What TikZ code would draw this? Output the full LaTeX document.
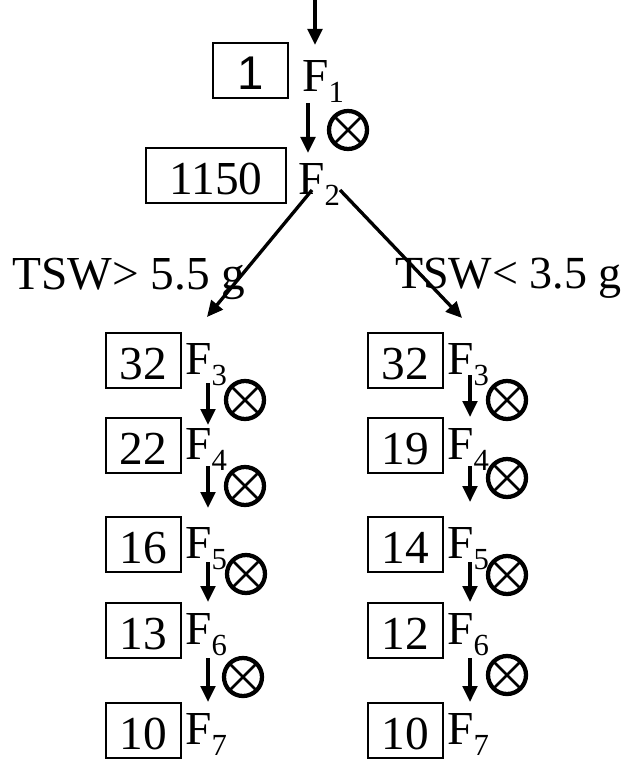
\documentclass[tikz,border=0pt]{standalone}
\usepackage{fontspec}
\setmainfont{Liberation Serif}
\newfontfamily\arialfont{Liberation Sans}
\usetikzlibrary{arrows.meta}
\newcommand{\Fsub}[1]{F\raisebox{-8.25pt}{\fontsize{23}{26}\selectfont #1}}
\tikzset{
  numbox/.style={draw, line width=1.2pt, inner sep=0pt, minimum width=56.25pt, minimum height=41.25pt, text height=30pt, text depth=2pt},
  widebox/.style={numbox, minimum width=105pt},
  lbl/.style={inner sep=0pt, anchor=base west},
  arr/.style={line width=2.5pt, -{Triangle[length=12pt,width=11pt]}},
  selfx/.style={circle, draw, line width=3.2pt, inner sep=0pt, minimum size=28.5pt,
    path picture={\draw[line width=2pt]
      (path picture bounding box.north west) -- (path picture bounding box.south east)
      (path picture bounding box.north east) -- (path picture bounding box.south west);}}
}
\begin{document}
\begin{tikzpicture}[x=0.75pt,y=-0.75pt,font=\fontsize{35.5}{40}\selectfont]
\useasboundingbox (0,0) rectangle (625,762);
% top
\coordinate (s0) at (315,0);
\coordinate (e0) at (315,45);
\node[numbox] (b1) at (250.5,70.5) {\arialfont 1};
\node[lbl] (F1) at (302,92) {\Fsub{1}};
\coordinate (s1) at (308,103);
\coordinate (e1) at (308,153);
\node[selfx] (x1) at (348,130) {};
\node[widebox] (b2) at (216,175.5) {1150};
\node[lbl] (F2) at (298,195) {\Fsub{2}};
\draw[arr] (s0) -- (e0);
\draw[arr] (s1) -- (e1);
% branches
\coordinate (dL0) at (312,190);
\coordinate (dL1) at (207,317);
\coordinate (dR0) at (340,190);
\coordinate (dR1) at (462,318);
\node[lbl] (tL) at (12,290) {TSW> 5.5 g};
\node[lbl, font=\fontsize{34.5}{40}\selectfont] (tR) at (395,289) {TSW< 3.5 g};
\draw[arr] (dL0) -- (dL1);
\draw[arr] (dR0) -- (dR1);
% columns
\foreach \r/\yc/\a/\b in {3/360.5/32/32, 4/445.5/22/19, 5/544.5/16/14, 6/630.5/13/12, 7/730.5/10/10} {
  \node[numbox] (bL\r) at (143.5,\yc) {\a};
  \node[lbl] (FL\r) at (185,\yc+14) {\Fsub{\r}};
  \node[numbox] (bR\r) at (405.5,\yc) {\b};
  \node[lbl] (FR\r) at (447,\yc+14) {\Fsub{\r}};
}
% left arrows and selfing symbols
\foreach \r/\ya/\yb/\xx/\xy in {3/383/425/245/400, 4/466/508/245/486, 5/562/602/246/574, 6/658/702/243/677} {
  \coordinate (lsa\r) at (208,\ya);
  \coordinate (lsb\r) at (208,\yb);
  \draw[arr] (lsa\r) -- (lsb\r);
  \node[selfx] (xL\r) at (\xx,\xy) {};
}
\foreach \r/\ya/\yb/\xy in {3/375/417/400, 4/466/502/478, 5/562/602/575, 6/658/702/675} {
  \coordinate (rsa\r) at (470,\ya);
  \coordinate (rsb\r) at (470,\yb);
  \draw[arr] (rsa\r) -- (rsb\r);
  \node[selfx] (xR\r) at (507,\xy) {};
}
\end{tikzpicture}
\end{document}
